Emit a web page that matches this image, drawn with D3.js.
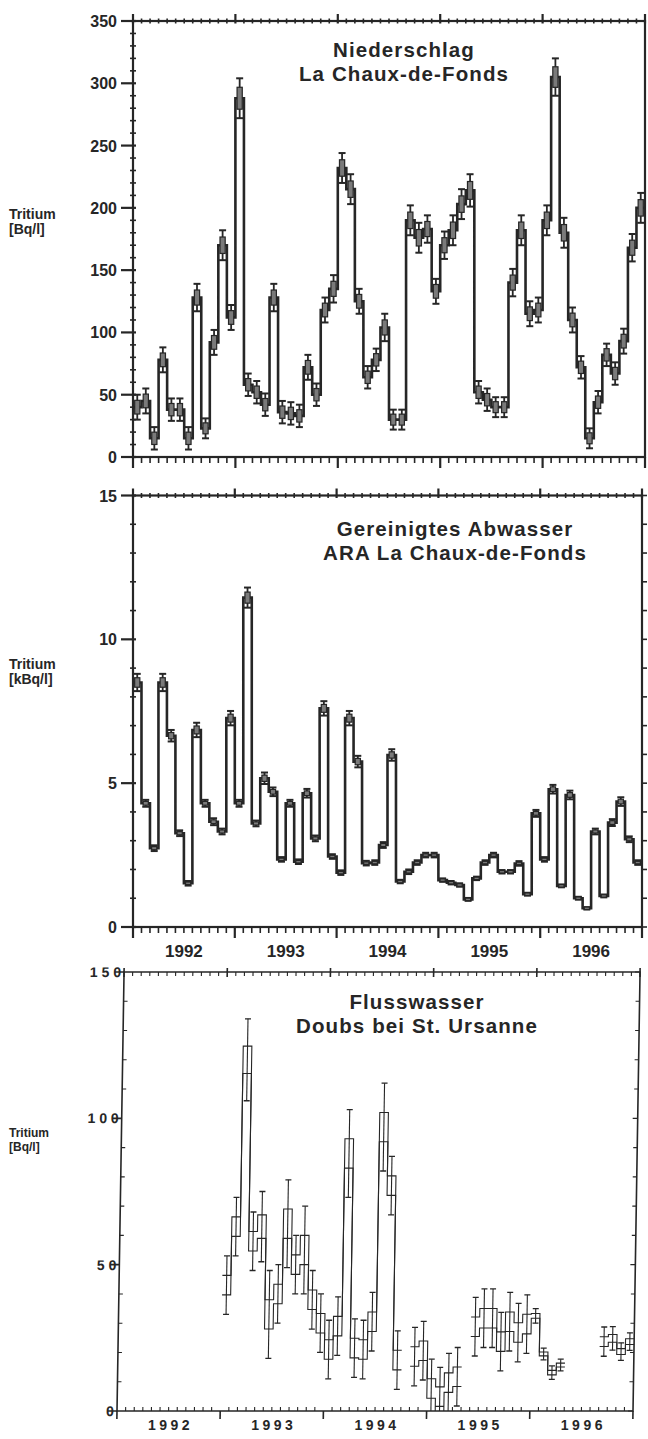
<!DOCTYPE html>
<html><head><meta charset="utf-8">
<script src="https://cdn.jsdelivr.net/npm/d3@7"></script>
<style>body{margin:0;background:#fff}svg{display:block}</style>
</head><body>
<svg id="chart" width="648" height="1439"></svg>
<script>
// monthly values Jan 1992 .. Dec 1996 (index 0..59)
const rainVal = [40, 45, 15, 78, 38, 38, 15, 128, 23, 92, 170, 112, 288, 58, 52, 42, 128, 36, 35, 33,
  72, 50, 118, 135, 232, 215, 125, 64, 78, 104, 30, 30, 190, 176, 183, 133, 170, 182, 203, 214,
  52, 46, 40, 40, 140, 182, 115, 118, 190, 305, 180, 110, 72, 15, 44, 82, 67, 93, 168, 200];
const rainErr = [10, 10, 9, 10, 9, 9, 9, 11, 8, 10, 12, 10, 16, 9, 9, 9, 11, 9, 9, 9,
  10, 9, 10, 11, 12, 12, 10, 9, 9, 11, 8, 8, 12, 12, 11, 10, 11, 12, 12, 13,
  9, 9, 8, 8, 11, 12, 10, 10, 12, 15, 12, 10, 9, 8, 9, 9, 9, 10, 11, 12];

const wasteVal = [8.5, 4.3, 2.74, 8.5, 6.65, 3.26, 1.52, 6.85, 4.3, 3.66, 3.32, 7.26, 4.3, 11.45, 3.6, 5.17, 4.7, 2.35, 4.3, 2.27,
  4.65, 3.08, 7.6, 2.45, 1.89, 7.26, 5.75, 2.22, 2.24, 2.85, 5.98, 1.58, 1.92, 2.24, 2.5, 2.5, 1.63, 1.54, 1.46, 0.96,
  1.69, 2.24, 2.5, 1.92, 1.92, 2.21, 1.14, 3.95, 2.35, 4.79, 1.43, 4.59, 1.0, 0.65, 3.32, 1.08, 3.63, 4.36, 3.05, 2.24];
const wasteErr = [0.3, 0.12, 0.1, 0.3, 0.2, 0.1, 0.08, 0.25, 0.12, 0.12, 0.1, 0.25, 0.12, 0.35, 0.1, 0.2, 0.15, 0.08, 0.12, 0.08,
  0.15, 0.1, 0.25, 0.08, 0.08, 0.25, 0.2, 0.08, 0.08, 0.1, 0.2, 0.06, 0.08, 0.08, 0.08, 0.08, 0.06, 0.06, 0.06, 0.05,
  0.06, 0.08, 0.08, 0.06, 0.06, 0.08, 0.05, 0.12, 0.08, 0.15, 0.05, 0.15, 0.05, 0.04, 0.1, 0.05, 0.12, 0.15, 0.1, 0.08];

const riverMonth = [12, 13, 14, 15, 16, 17, 18, 19, 20, 21, 22, 23, 24, 25, 26, 27, 28, 29, 30, 31, 32,
  34, 35, 36, 37, 38, 39, 41, 42, 43, 44, 45, 46, 47, 48, 49, 50, 51, 56, 57, 58, 59];
const riverVal = [43, 63, 120, 58, 63, 33, 40, 64, 50, 55, 38, 30, 21, 29, 88, 21.5, 21, 30.5, 97, 77, 17.4,
  18.6, 20.6, 7.7, 4.9, 9.7, 11.7, 28.8, 31.7, 31.7, 23.7, 30.5, 26.8, 29.7, 32.5, 19.5, 13.1, 15.7, 23.7, 24.8, 20.3, 23.7];
const riverErr = [10, 10, 14, 10, 12, 15, 10, 15, 10, 15, 10, 10, 10, 10, 15, 10, 10, 10, 15, 10, 10,
  10, 10, 10, 10, 10, 10, 10, 10, 10, 10, 10, 10, 10, 2.5, 2, 2.3, 2, 5, 4, 3, 3];

const yearLabels = ['1992', '1993', '1994', '1995', '1996'];

const FONT = '"Liberation Sans", Arial, Helvetica, sans-serif';
const INK = '#262626';
const svg = d3.select('#chart');

function frame(g, x, y, o) {
  const [x0, x1] = x.range(), [y0, y1] = y.range();
  g.append('rect').attr('x', x0).attr('y', y1).attr('width', x1 - x0).attr('height', y0 - y1)
    .attr('fill', 'none').attr('stroke', INK).attr('stroke-width', o.frameW);
  const months = d3.range(0, 61);
  months.forEach(m => {
    const xm = x(m), yr = m % 12 === 0;
    const b = o.bottomTick(yr);
    g.append('line').attr('x1', xm).attr('x2', xm).attr('y1', y0 + b[0]).attr('y2', y0 + b[1])
      .attr('stroke', INK).attr('stroke-width', yr ? o.frameW : o.tickW);
    const t = o.topTick(yr);
    g.append('line').attr('x1', xm).attr('x2', xm).attr('y1', y1 + t[0]).attr('y2', y1 + t[1])
      .attr('stroke', INK).attr('stroke-width', yr ? o.frameW : o.tickW);
  });
  d3.range(0, o.yMax + o.minor / 2, o.minor).forEach(v => {
    const yv = y(v), major = Math.abs(v / o.major - Math.round(v / o.major)) < 1e-6;
    const l = o.leftTick(major);
    g.append('line').attr('x1', x0 + l[0]).attr('x2', x0 + l[1]).attr('y1', yv).attr('y2', yv)
      .attr('stroke', INK).attr('stroke-width', major ? o.frameW : o.tickW);
    const r = o.rightTick(major);
    if (r) g.append('line').attr('x1', x1 + r[0]).attr('x2', x1 + r[1]).attr('y1', yv).attr('y2', yv)
      .attr('stroke', INK).attr('stroke-width', o.tickW);
  });
}

function stepPath(ms, vs, x, y) {
  const pts = [];
  ms.forEach((m, i) => { pts.push([m, vs[i]]); pts.push([m + 1, vs[i]]); });
  return d3.line().x(d => x(d[0])).y(d => y(d[1]))(pts);
}

function thickSeries(g, vals, errs, x, y, o) {
  const ms = d3.range(vals.length);
  g.append('path').attr('d', stepPath(ms, vals, x, y)).attr('fill', 'none')
    .attr('stroke', INK).attr('stroke-width', o.lineW).attr('stroke-linejoin', 'miter');
  ms.forEach(m => {
    const cx = x(m + 0.5), v = vals[m], e = errs[m];
    g.append('line').attr('x1', cx).attr('x2', cx).attr('y1', y(v - e)).attr('y2', y(v + e))
      .attr('stroke', INK).attr('stroke-width', 1.8);
    [v - e, v + e].forEach(c => g.append('line').attr('x1', cx - 3.5).attr('x2', cx + 3.5)
      .attr('y1', y(c)).attr('y2', y(c)).attr('stroke', INK).attr('stroke-width', 2));
    const h = Math.max(2.5, y(v - e * 0.55) - y(v + e * 0.55));
    g.append('rect').attr('x', cx - 2.6).attr('width', 5.2).attr('y', y(v) - h / 2).attr('height', h)
      .attr('fill', '#7a7a7a').attr('stroke', INK).attr('stroke-width', 1.2);
  });
}

function titles(lines, cx, ys) {
  lines.forEach((t, i) => svg.append('text').attr('x', cx).attr('y', ys[i]).attr('text-anchor', 'middle')
    .attr('font-family', FONT).attr('font-weight', 700).attr('font-size', 20.5).attr('letter-spacing', 1.1)
    .attr('fill', INK).text(t));
}
function yTitle(lines, x0, ys, fs) {
  lines.forEach((t, i) => svg.append('text').attr('x', x0).attr('y', ys[i])
    .attr('font-family', FONT).attr('font-weight', 700).attr('font-size', fs).attr('fill', INK).text(t));
}

// ---------- Panel 1: Niederschlag ----------
{
  const x = d3.scaleLinear().domain([0, 60]).range([133, 645]);
  const y = d3.scaleLinear().domain([0, 350]).range([457, 21]);
  const g = svg.append('g');
  frame(g, x, y, {
    frameW: 2.2, tickW: 1.6, yMax: 350, minor: 10, major: 50,
    bottomTick: yr => yr ? [0, 11] : [0, 6], topTick: yr => yr ? [-7, 2.5] : [-2.5, 2.5],
    leftTick: mj => mj ? [-12, 3] : [-3, 3], rightTick: () => null
  });
  thickSeries(g, rainVal, rainErr, x, y, { lineW: 2.6 });
  y.ticks(7).forEach(t => g.append('text').attr('x', 117).attr('y', y(t) + 6).attr('text-anchor', 'end')
    .attr('font-family', FONT).attr('font-weight', 700).attr('font-size', 16).attr('fill', INK).text(t));
  titles(['Niederschlag', 'La Chaux-de-Fonds'], 404, [57, 81]);
  yTitle(['Tritium', '[Bq/l]'], 9, [219, 234], 14);
}

// ---------- Panel 2: Gereinigtes Abwasser ----------
{
  const x = d3.scaleLinear().domain([0, 60]).range([133, 642]);
  const y = d3.scaleLinear().domain([0, 15]).range([927, 495.5]);
  const g = svg.append('g');
  frame(g, x, y, {
    frameW: 2.2, tickW: 1.6, yMax: 15, minor: 1, major: 5,
    bottomTick: yr => yr ? [0, 11] : [0, 6], topTick: yr => yr ? [-7, 2.5] : [-2.5, 2.5],
    leftTick: mj => mj ? [-12, 3] : [-3, 3], rightTick: () => [0, 5]
  });
  thickSeries(g, wasteVal, wasteErr, x, y, { lineW: 2.6 });
  y.ticks(3).forEach(t => g.append('text').attr('x', 117).attr('y', y(t) + 6).attr('text-anchor', 'end')
    .attr('font-family', FONT).attr('font-weight', 700).attr('font-size', 16).attr('fill', INK).text(t));
  yearLabels.forEach((l, i) => g.append('text').attr('x', x(i * 12 + 6)).attr('y', 957).attr('text-anchor', 'middle')
    .attr('font-family', FONT).attr('font-weight', 700).attr('font-size', 17).attr('fill', INK).text(l));
  titles(['Gereinigtes Abwasser', 'ARA La Chaux-de-Fonds'], 455, [536, 560]);
  yTitle(['Tritium', '[kBq/l]'], 9, [669, 684], 14);
}

// ---------- Panel 3: Flusswasser ----------
{
  const x = d3.scaleLinear().domain([0, 60]).range([117, 633]);
  const y = d3.scaleLinear().domain([0, 150]).range([1411, 972]);
  const g = svg.append('g').attr('transform', 'translate(0,1411) skewX(-0.92) translate(0,-1411)');
  frame(g, x, y, {
    frameW: 1.6, tickW: 1.1, yMax: 150, minor: 10, major: 50,
    bottomTick: yr => yr ? [0, 8] : [0, -4], topTick: yr => yr ? [-4, 5] : [0, 4],
    leftTick: mj => mj ? [-9, 0] : [0, 4], rightTick: mj => mj ? [-5, 0] : [-4, 0]
  });
  // split into contiguous runs
  const runs = [];
  riverMonth.forEach((m, i) => {
    if (!runs.length || m !== riverMonth[i - 1] + 1) runs.push([]);
    runs[runs.length - 1].push(i);
  });
  runs.forEach(r => {
    const ms = r.map(i => riverMonth[i]);
    [1, -1].forEach(sgn => {
      const vs = r.map(i => riverVal[i] + sgn * riverErr[i] / 3);
      g.append('path').attr('d', stepPath(ms, vs, x, y)).attr('fill', 'none')
        .attr('stroke', INK).attr('stroke-width', 1.1);
    });
  });
  riverMonth.forEach((m, i) => {
    const cx = x(m + 0.5), v = riverVal[i], e = riverErr[i];
    g.append('line').attr('x1', cx).attr('x2', cx).attr('y1', y(Math.max(0, v - e))).attr('y2', y(v + e))
      .attr('stroke', INK).attr('stroke-width', 1.1);
    [v - e, v + e].filter(c => c > 0).forEach(c => g.append('line').attr('x1', cx - 3).attr('x2', cx + 3)
      .attr('y1', y(c)).attr('y2', y(c)).attr('stroke', INK).attr('stroke-width', 1.3));
  });
  const yl = [[0, '0'], [50, '5 0'], [100, '1 0 0'], [150, '1 5 0']];
  yl.forEach(([v, t]) => g.append('text').attr('x', 114).attr('y', y(v) + 5).attr('text-anchor', 'end')
    .attr('font-family', FONT).attr('font-weight', 700).attr('font-size', 14).attr('fill', INK).text(t));
  yearLabels.forEach((l, i) => svg.append('text').attr('x', x(i * 12 + 6) + 2).attr('y', 1430).attr('text-anchor', 'middle')
    .attr('font-family', FONT).attr('font-weight', 700).attr('font-size', 14).attr('letter-spacing', 3.5)
    .attr('fill', INK).text(l));
  titles(['Flusswasser', 'Doubs bei St. Ursanne'], 417, [1009, 1033]);
  yTitle(['Tritium', '[Bq/l]'], 9, [1137, 1151], 12);
}
</script>
</body></html>
